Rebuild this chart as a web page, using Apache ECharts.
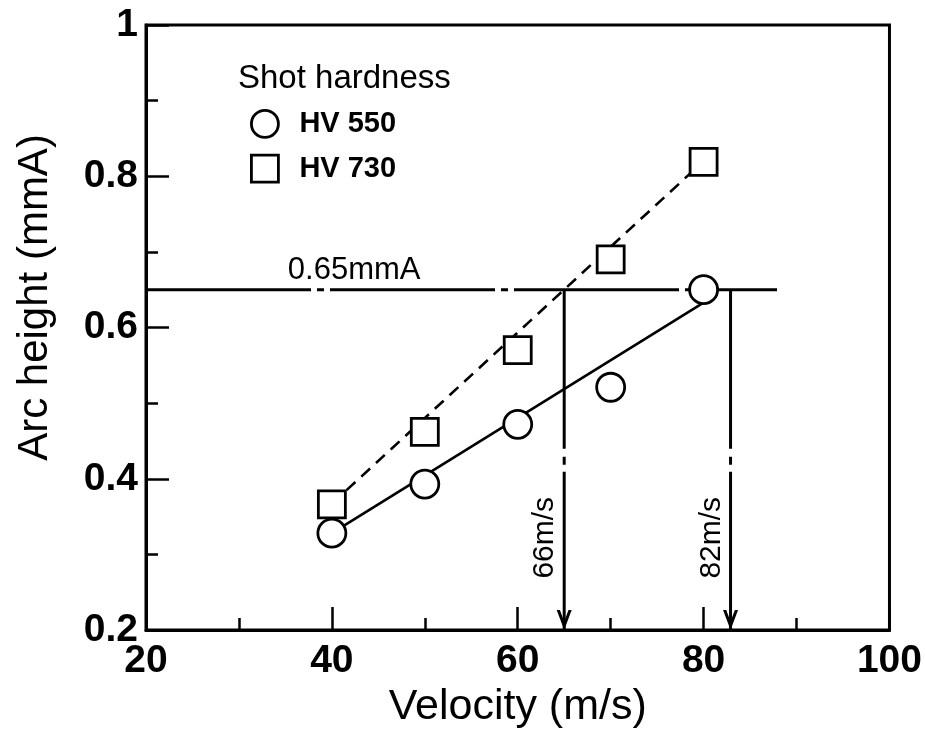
<!DOCTYPE html>
<html>
<head>
<meta charset="utf-8">
<script src="https://cdn.jsdelivr.net/npm/echarts@6/dist/echarts.min.js"></script>
<style>
html,body{margin:0;padding:0;background:#fff;}
#chart{width:925px;height:742px;}
</style>
</head>
<body>
<div id="chart"></div>
<script>
// ---- data ----
const velocity = [40, 50, 60, 70, 80];
const hv550 = [0.328, 0.393, 0.472, 0.521, 0.650];
const hv730 = [0.366, 0.462, 0.570, 0.690, 0.819];
const fit550 = [[40, 0.328], [80, 0.633]];
const fit730 = [[40, 0.367], [80, 0.820]];
const targetHeight = 0.65;
const targetLineEnd = 87.9;
const arrowX = [65.0, 82.9];
const arrowLabels = ['66m/s', '82m/s'];
const targetLabel = '0.65mmA';
const xTicks = [20, 40, 60, 80, 100];
const yTicks = [0.2, 0.4, 0.6, 0.8, 1];

const FONT = 'Liberation Sans, Arial, sans-serif';
const chart = echarts.init(document.getElementById('chart'), null, {renderer: 'canvas'});

const pts = (xs, ys) => xs.map((x, i) => [x, ys[i]]);
const markerStyle = {color: '#fff', borderColor: '#000', borderWidth: 2.8, opacity: 1};
const noteLabel = {show: true, position: 'inside', color: '#000', fontFamily: FONT,
  textBorderWidth: 0, textBorderColor: 'transparent', opacity: 1};

const series = [
  {
    name: 'fit550', type: 'line', data: fit550, symbol: 'none', z: 3,
    lineStyle: {color: '#000', width: 2.6, type: 'solid'}, silent: true
  },
  {
    name: 'fit730', type: 'line', data: fit730, symbol: 'none', z: 3,
    lineStyle: {color: '#000', width: 2.6, type: [12, 8]}, silent: true
  },
  {
    name: 'target', type: 'line', data: [[xTicks[0], targetHeight], [targetLineEnd, targetHeight]],
    symbol: 'none', z: 2,
    lineStyle: {color: '#000', width: 3, type: [165, 6, 7, 6]}, silent: true
  }
];
arrowX.forEach((x, i) => {
  series.push({
    name: 'drop' + i, type: 'line', data: [[x, targetHeight], [x, yTicks[0]]],
    symbol: 'none', z: 2,
    lineStyle: {color: '#000', width: 3, type: [159, 8, 8, 7]}, silent: true
  });
});
series.push({
  name: 'arrows', type: 'scatter', clip: false, z: 4, silent: true,
  data: arrowX.map(x => [x, yTicks[0]]),
  symbol: 'path://M0,0 L7.5,20 L15,0 L11.8,0 L7.5,11.5 L3.2,0 Z',
  symbolSize: [15, 20], symbolOffset: [0, -10],
  itemStyle: {color: '#000', opacity: 1}
});
series.push({
  name: 'HV 550', type: 'scatter', data: pts(velocity, hv550), symbol: 'circle',
  symbolSize: 28, z: 10, itemStyle: markerStyle
});
series.push({
  name: 'HV 730', type: 'scatter', data: pts(velocity, hv730), symbol: 'rect',
  symbolSize: 27, z: 10, itemStyle: markerStyle
});
// text annotations, anchored in data coordinates
series.push({
  name: 'notes', type: 'scatter', symbolSize: 0, z: 12, silent: true, clip: false,
  itemStyle: {opacity: 1},
  data: [
    {value: [42.4, 0.675], label: Object.assign({}, noteLabel, {formatter: targetLabel, fontSize: 31})},
    {value: [arrowX[0] - 2.1, 0.322], label: Object.assign({}, noteLabel, {formatter: arrowLabels[0], rotate: 90, fontSize: 30})},
    {value: [arrowX[1] - 2.0, 0.322], label: Object.assign({}, noteLabel, {formatter: arrowLabels[1], rotate: 90, fontSize: 30})}
  ],
  label: noteLabel
});

const option = {
  animation: false,
  backgroundColor: '#fff',
  title: {
    text: 'Shot hardness', left: 233, top: 57,
    textStyle: {fontFamily: FONT, fontSize: 33, fontWeight: 'normal', color: '#000'}
  },
  legend: {
    data: [
      {name: 'HV 550', icon: 'circle', itemStyle: markerStyle},
      {name: 'HV 730', icon: 'rect', itemStyle: markerStyle}
    ],
    orient: 'vertical', left: 245, top: 104, itemWidth: 27, itemHeight: 27,
    itemGap: 15, selectedMode: false,
    textStyle: {fontFamily: FONT, fontSize: 29, fontWeight: 'bold', color: '#000', padding: [0, 0, 0, 16]}
  },
  grid: {
    left: 146, right: 34, top: 25, bottom: 112, show: true,
    borderColor: '#000', borderWidth: 3, backgroundColor: 'transparent'
  },
  xAxis: {
    type: 'value', min: xTicks[0], max: xTicks[xTicks.length - 1], interval: 20,
    name: 'Velocity (m/s)', nameLocation: 'middle', nameGap: 56,
    nameTextStyle: {fontFamily: FONT, fontSize: 43, color: '#000'},
    axisLine: {show: true, lineStyle: {color: '#000', width: 3}},
    axisTick: {show: true, inside: true, length: 23, lineStyle: {color: '#000', width: 2.5}},
    minorTick: {show: true, splitNumber: 2, length: 12, lineStyle: {color: '#000', width: 2.5}},
    axisLabel: {fontFamily: FONT, fontSize: 39, fontWeight: 'bold', color: '#000', margin: 12},
    splitLine: {show: false}
  },
  yAxis: {
    type: 'value', min: yTicks[0], max: yTicks[yTicks.length - 1], interval: 0.2,
    name: 'Arc height (mmA)', nameLocation: 'middle', nameGap: 90,
    nameTextStyle: {fontFamily: FONT, fontSize: 42, color: '#000', padding: [0, 0, 0, 60]},
    axisLine: {show: true, lineStyle: {color: '#000', width: 3}},
    axisTick: {show: true, inside: true, length: 23, lineStyle: {color: '#000', width: 2.5}},
    minorTick: {show: true, splitNumber: 2, length: 12, lineStyle: {color: '#000', width: 2.5}},
    axisLabel: {fontFamily: FONT, fontSize: 39, fontWeight: 'bold', color: '#000', margin: 8,
      formatter: v => String(Math.round(v * 10) / 10)},
    splitLine: {show: false}
  },
  series: series
};
chart.setOption(option);
</script>
</body>
</html>
